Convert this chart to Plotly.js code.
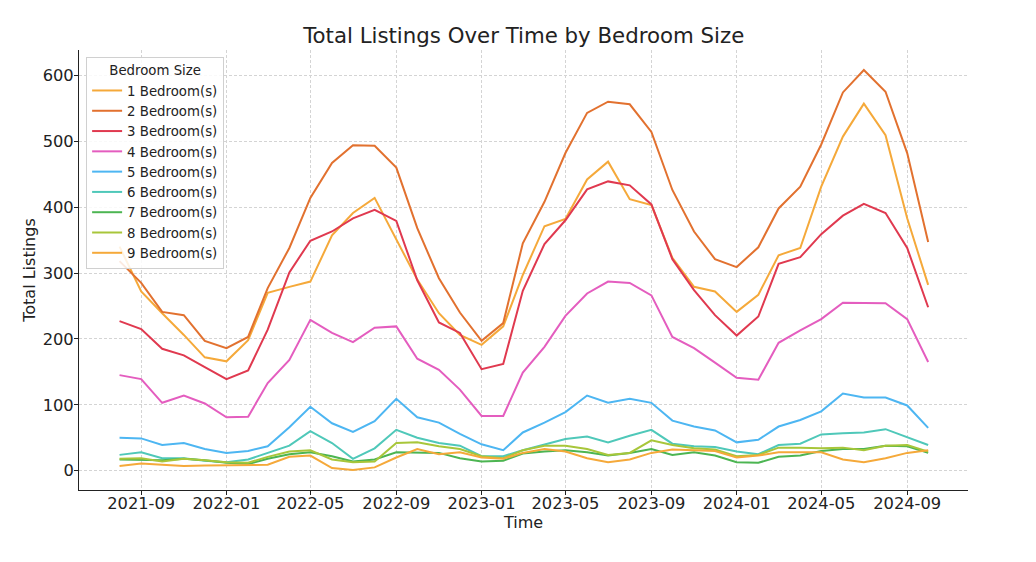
<!DOCTYPE html>
<html>
<head>
<meta charset="utf-8">
<script src="https://cdn.plot.ly/plotly-3.0.1.min.js"></script>
<style>html,body{margin:0;padding:0;background:#fff}#chart{width:1036px;height:562px}</style>
</head>
<body>
<div id="chart"></div>
<script>
// Months 2021-08 .. 2024-10
const months = [];
(function(){ let y=2021, m=8; for(let i=0;i<39;i++){ months.push(y+'-'+String(m).padStart(2,'0')+'-01'); m++; if(m>12){m=1;y++;} } })();

const bed1 = [340, 272, 239, 206, 172, 166, 198, 270, 279, 287, 357, 391, 414, 351, 290, 239, 206, 191, 219, 297, 371, 382, 442, 469, 412, 403, 323, 279, 272, 241, 267, 327, 338, 431, 507, 557, 509, 383, 282];
const bed2 = [318, 285, 241, 236, 197, 186, 203, 277, 338, 414, 467, 494, 493, 460, 368, 292, 240, 197, 224, 345, 408, 482, 543, 560, 556, 514, 426, 363, 321, 309, 339, 398, 431, 495, 574, 608, 575, 482, 347];
const bed3 = [227, 215, 185, 175, 157, 139, 152, 214, 301, 349, 363, 383, 396, 379, 289, 225, 209, 154, 162, 273, 344, 380, 427, 439, 433, 404, 321, 274, 236, 205, 234, 314, 324, 359, 387, 405, 391, 338, 248];
const bed4 = [145, 139, 103, 114, 102, 81, 82, 133, 168, 229, 209, 195, 217, 219, 170, 153, 123, 83, 83, 149, 188, 235, 269, 287, 285, 266, 203, 186, 164, 141, 138, 194, 213, 230, 255, 255, 254, 230, 165];
const bed5 = [50, 49, 39, 42, 33, 27, 30, 37, 66, 97, 72, 59, 75, 109, 81, 73, 56, 40, 31, 58, 73, 89, 114, 103, 109, 103, 76, 67, 61, 43, 47, 67, 77, 90, 117, 111, 111, 99, 65];
const bed6 = [24, 28, 19, 19, 15, 13, 17, 27, 38, 60, 42, 18, 34, 62, 50, 42, 38, 22, 22, 31, 40, 48, 52, 43, 53, 62, 41, 37, 36, 29, 25, 39, 41, 55, 57, 58, 63, 51, 39];
const bed7 = [17, 16, 16, 18, 16, 12, 10, 18, 25, 28, 22, 14, 17, 28, 27, 27, 19, 14, 15, 26, 29, 31, 28, 23, 27, 33, 24, 28, 23, 13, 12, 21, 23, 30, 33, 33, 38, 37, 27];
const bed8 = [18, 19, 14, 18, 16, 13, 12, 21, 29, 31, 17, 13, 14, 42, 43, 37, 33, 22, 19, 31, 38, 38, 33, 24, 27, 46, 39, 34, 32, 22, 24, 35, 35, 34, 35, 31, 38, 39, 29];
const bed9 = [7, 11, 9, 7, 8, 8, 8, 9, 21, 23, 4, 1, 5, 20, 33, 25, 28, 20, 18, 27, 33, 29, 19, 13, 17, 27, 32, 31, 30, 20, 23, 28, 28, 28, 17, 13, 19, 27, 31];

const seriesNames = ['1 Bedroom(s)','2 Bedroom(s)','3 Bedroom(s)','4 Bedroom(s)','5 Bedroom(s)','6 Bedroom(s)','7 Bedroom(s)','8 Bedroom(s)','9 Bedroom(s)'];
const seriesData = [bed1,bed2,bed3,bed4,bed5,bed6,bed7,bed8,bed9];
const colors = ['#f5a93a','#e2712f','#e0394f','#e45dbf','#4db6f2','#4fc8b9','#4cb552','#a8c63a','#f5a93a'];

const tickVals = ['2021-09-01','2022-01-01','2022-05-01','2022-09-01','2023-01-01','2023-05-01','2023-09-01','2024-01-01','2024-05-01','2024-09-01'];
const tickText = ['2021-09','2022-01','2022-05','2022-09','2023-01','2023-05','2023-09','2024-01','2024-05','2024-09'];

const traces = seriesData.map((d,i)=>({
  x: months, y: d, type:'scatter', mode:'lines', name: seriesNames[i],
  line:{color: colors[i], width:2}
}));

const font = 'DejaVu Sans, sans-serif';
const layout = {
  width:1036, height:562,
  margin:{l:79, r:68, t:50, b:72},
  paper_bgcolor:'#fff', plot_bgcolor:'#fff',
  font:{family:font, color:'#222'},
  title:{text:'Total Listings Over Time by Bedroom Size', x:0.5055, xanchor:'center', y:0.937, yanchor:'middle', font:{size:21.3, family:font, color:'#222'}},
  xaxis:{
    type:'date', range:['2021-06-04','2024-11-27'],
    tickvals: tickVals, ticktext: tickText,
    showgrid:true, gridcolor:'#d4d4d4', griddash:'3px,2px', gridwidth:1,
    showline:true, linecolor:'#222', linewidth:1, mirror:false,
    ticks:'outside', ticklen:4, tickcolor:'#222', ticklabelstandoff:-6,
    tickfont:{size:16.3, family:font, color:'#222'},
    title:{text:'Time', font:{size:16, family:font, color:'#222'}, standoff:4},
    zeroline:false
  },
  yaxis:{
    range:[-29.3, 638.4],
    tickvals:[0,100,200,300,400,500,600],
    showgrid:true, gridcolor:'#d4d4d4', griddash:'3px,2px', gridwidth:1,
    showline:true, linecolor:'#222', linewidth:1,
    ticks:'outside', ticklen:4, tickcolor:'#222', ticklabelstandoff:-3,
    tickfont:{size:16.3, family:font, color:'#222'},
    title:{text:'Total Listings', font:{size:16, family:font, color:'#222'}, standoff:3},
    zeroline:false
  },
  showlegend:true,
  legend:{
    x:0.008, y:0.984, xanchor:'left', yanchor:'top',
    bgcolor:'rgba(255,255,255,0.85)', bordercolor:'#d0d0d0', borderwidth:1,
    font:{size:13.3, family:font, color:'#222'},
    title:{text:'Bedroom Size', side:'top center', font:{size:13.3, family:font, color:'#222'}},
    itemwidth:30, tracegroupgap:0
  }
};

Plotly.newPlot('chart', traces, layout, {displayModeBar:false, staticPlot:true});
</script>
</body>
</html>
